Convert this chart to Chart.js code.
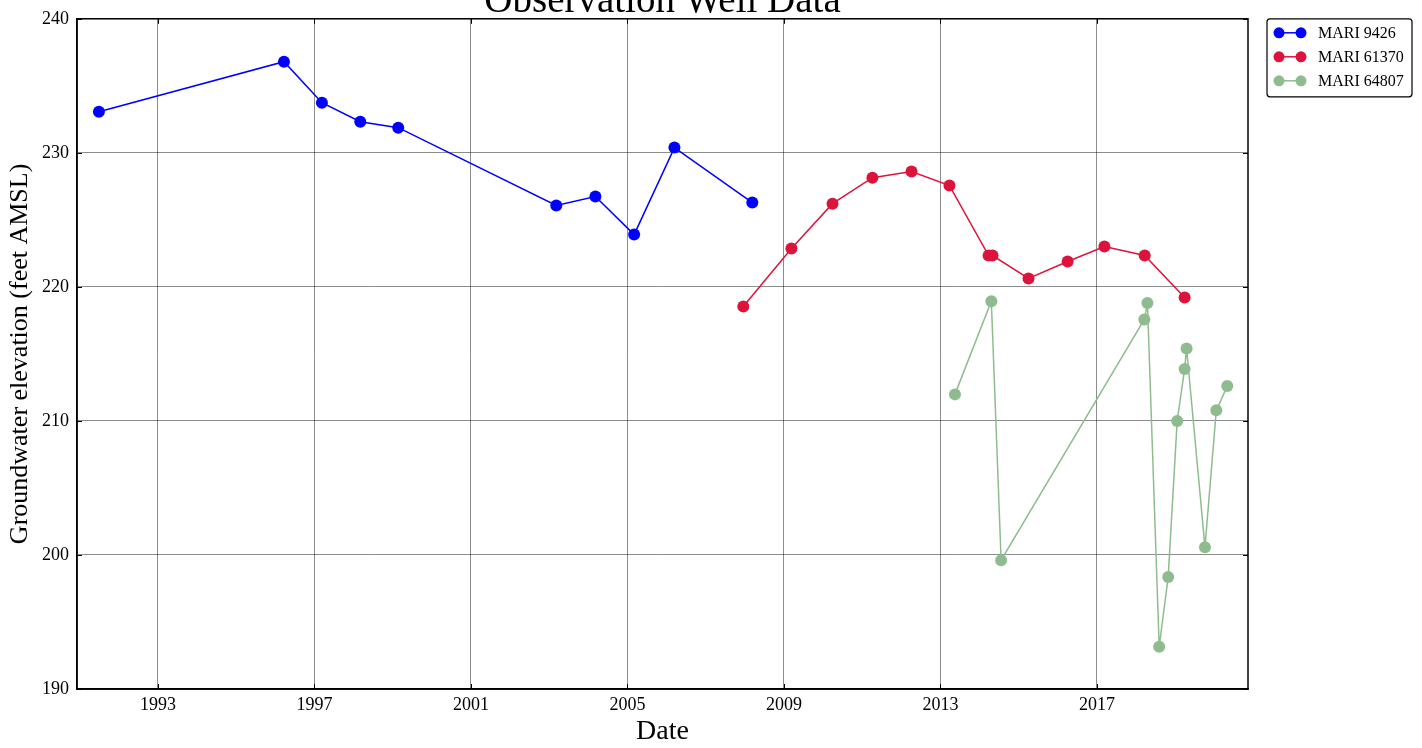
<!DOCTYPE html>
<html>
<head>
<meta charset="utf-8">
<script src="https://cdn.jsdelivr.net/npm/chart.js@4/dist/chart.umd.min.js"></script>
<style>
  html, body { margin: 0; padding: 0; background: #fff; }
  #wrap { width: 1422px; height: 748px; }
</style>
</head>
<body>
<div id="wrap"><canvas id="chart"></canvas></div>
<script>
// decimal years and groundwater elevation (feet AMSL)
const mari9426Dates = [1991.49, 1996.22, 1997.19, 1998.17, 1999.14, 2003.18, 2004.18, 2005.17, 2006.20, 2008.19];
const mari9426Levels = [233.07, 236.80, 233.74, 232.32, 231.88, 226.07, 226.74, 223.90, 230.39, 226.29];

const mari61370Dates = [2007.96, 2009.19, 2010.24, 2011.26, 2012.26, 2013.23, 2014.23, 2014.33, 2015.25, 2016.25, 2017.19, 2018.22, 2019.24];
const mari61370Levels = [218.54, 222.86, 226.21, 228.15, 228.60, 227.56, 222.34, 222.34, 220.63, 221.89, 223.01, 222.34, 219.21];

const mari64807Dates = [2013.37, 2014.30, 2014.55, 2018.21, 2018.29, 2018.59, 2018.82, 2019.05, 2019.24, 2019.29, 2019.76, 2020.05, 2020.33];
const mari64807Levels = [211.98, 218.93, 199.61, 217.57, 218.79, 193.15, 198.35, 210.00, 213.87, 215.41, 200.58, 210.79, 212.60];

const yearTicks = [1993, 1997, 2001, 2005, 2009, 2013, 2017];
const levelTicks = [190, 200, 210, 220, 230, 240];

const FONT = "'Liberation Serif', 'DejaVu Serif', serif";

function toPoints(xs, ys) {
  return xs.map((x, i) => ({ x: x, y: ys[i] }));
}

function series(label, xs, ys, color) {
  return {
    label: label,
    data: toPoints(xs, ys),
    borderColor: color,
    backgroundColor: color,
    borderWidth: 1.5,
    pointRadius: 6,
    pointHoverRadius: 6,
    pointBorderWidth: 0,
    tension: 0,
  };
}

// title sits mostly above the canvas, as in the original figure
const titlePlugin = {
  id: "wellTitle",
  afterDraw(chart) {
    const { ctx, chartArea } = chart;
    ctx.save();
    ctx.fillStyle = "#000";
    ctx.font = "39px " + FONT;
    ctx.textAlign = "center";
    ctx.textBaseline = "alphabetic";
    ctx.fillText("Observation Well Data", (chartArea.left + chartArea.right) / 2, chartArea.top - 7);
    ctx.restore();
  },
};

// full box around the plot with small inward ticks on every side
const framePlugin = {
  id: "frame",
  afterDatasetsDraw(chart) {
    const { ctx, chartArea: a, scales } = chart;
    ctx.save();
    ctx.strokeStyle = "#000";
    ctx.lineWidth = 1;
    ctx.beginPath();
    yearTicks.forEach(v => {
      const px = Math.round(scales.x.getPixelForValue(v)) + 0.5;
      ctx.moveTo(px, a.bottom); ctx.lineTo(px, a.bottom - 5);
      ctx.moveTo(px, a.top); ctx.lineTo(px, a.top + 5);
    });
    levelTicks.forEach(v => {
      const py = Math.round(scales.y.getPixelForValue(v)) + 0.5;
      ctx.moveTo(a.left, py); ctx.lineTo(a.left + 5, py);
      ctx.moveTo(a.right, py); ctx.lineTo(a.right - 5, py);
    });
    ctx.stroke();
    ctx.lineWidth = 1.5;
    ctx.strokeRect(a.left, a.top, a.right - a.left, a.bottom - a.top);
    ctx.restore();
  },
};

// boxed legend outside the plot on the upper right
const legendPlugin = {
  id: "wellLegend",
  afterDraw(chart) {
    const { ctx, chartArea } = chart;
    const x0 = chartArea.right + 19;
    const y0 = chartArea.top;
    const w = 145, h = 78;
    ctx.save();
    ctx.strokeStyle = "#000";
    ctx.lineWidth = 1.2;
    ctx.beginPath();
    ctx.roundRect(x0, y0, w, h, 3);
    ctx.stroke();
    ctx.font = "16px " + FONT;
    ctx.textBaseline = "middle";
    chart.data.datasets.forEach((ds, i) => {
      const y = y0 + 14 + i * 24;
      ctx.strokeStyle = ds.borderColor;
      ctx.fillStyle = ds.borderColor;
      ctx.lineWidth = 1.5;
      ctx.beginPath();
      ctx.moveTo(x0 + 12, y);
      ctx.lineTo(x0 + 34, y);
      ctx.stroke();
      [x0 + 12, x0 + 34].forEach(cx => {
        ctx.beginPath();
        ctx.arc(cx, y, 5.5, 0, Math.PI * 2);
        ctx.fill();
      });
      ctx.fillStyle = "#000";
      ctx.fillText(ds.label, x0 + 51, y + 1);
    });
    ctx.restore();
  },
};

new Chart(document.getElementById("chart"), {
  type: "line",
  data: {
    datasets: [
      series("MARI 9426", mari9426Dates, mari9426Levels, "#0000ff"),
      series("MARI 61370", mari61370Dates, mari61370Levels, "#dc143c"),
      series("MARI 64807", mari64807Dates, mari64807Levels, "#8fbc8f"),
    ],
  },
  options: {
    responsive: true,
    maintainAspectRatio: false,
    animation: false,
    layout: { padding: { top: 18, right: 174, left: 0, bottom: 0 } },
    plugins: {
      legend: { display: false },
      tooltip: { enabled: false },
    },
    scales: {
      x: {
        type: "linear",
        min: 1990.93,
        max: 2020.86,
        afterBuildTicks: scale => {
          scale.ticks = yearTicks.map(v => ({ value: v }));
        },
        afterFit: scale => { scale.height = 59; },
        ticks: {
          color: "#000",
          font: { family: FONT, size: 18 },
          padding: 5,
          maxRotation: 0,
          callback: v => String(v),
        },
        grid: { color: "rgba(0,0,0,0.45)", lineWidth: 1, tickLength: 0 },
        border: { color: "#000", width: 1.5 },
        title: {
          display: true,
          text: "Date",
          color: "#000",
          font: { family: FONT, size: 28 },
          padding: { top: 0, bottom: 0 },
        },
      },
      y: {
        min: 190,
        max: 240,
        afterBuildTicks: scale => {
          scale.ticks = levelTicks.map(v => ({ value: v }));
        },
        afterFit: scale => { scale.width = 77; },
        ticks: {
          color: "#000",
          font: { family: FONT, size: 18 },
          padding: 8,
          callback: v => String(v),
        },
        grid: { color: "rgba(0,0,0,0.45)", lineWidth: 1, tickLength: 0 },
        border: { color: "#000", width: 1.5 },
        title: {
          display: true,
          text: "Groundwater elevation (feet AMSL)",
          color: "#000",
          font: { family: FONT, size: 26 },
          padding: { top: 5, bottom: 0 },
        },
      },
    },
  },
  plugins: [titlePlugin, framePlugin, legendPlugin],
});
</script>
</body>
</html>
